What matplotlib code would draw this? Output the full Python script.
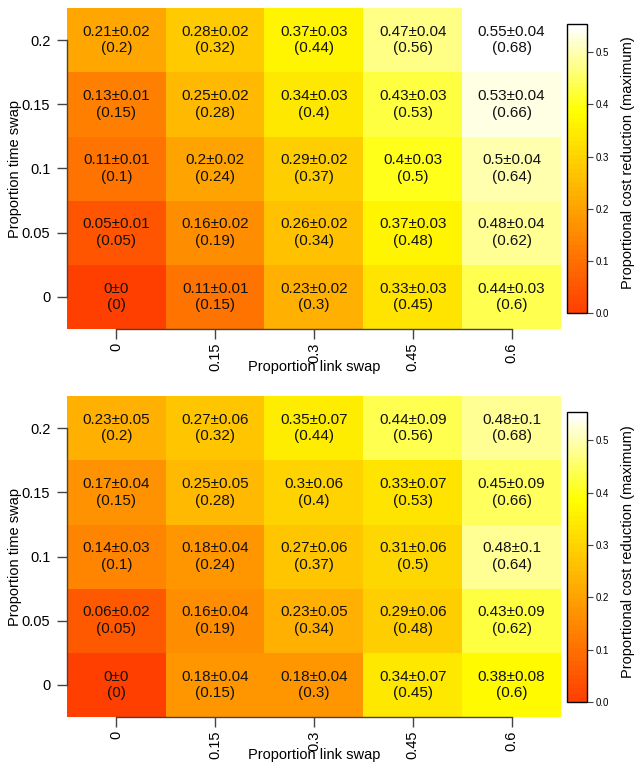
import numpy as np
import matplotlib
matplotlib.use("Agg")
import matplotlib.pyplot as plt
from matplotlib.colors import LinearSegmentedColormap, Normalize
from matplotlib.cm import ScalarMappable

plt.rcParams['font.family'] = ['Liberation Sans', 'DejaVu Sans']

link_swap = [0, 0.15, 0.3, 0.45, 0.6]
time_swap = [0, 0.05, 0.1, 0.15, 0.2]
link_labels = ["0", "0.15", "0.3", "0.45", "0.6"]
time_labels = ["0", "0.05", "0.1", "0.15", "0.2"]

# rows = time swap (0 -> 0.2), cols = link swap (0 -> 0.6)
top_mean = [[0, 0.11, 0.23, 0.33, 0.44],
            [0.05, 0.16, 0.26, 0.37, 0.48],
            [0.11, 0.2, 0.29, 0.4, 0.5],
            [0.13, 0.25, 0.34, 0.43, 0.53],
            [0.21, 0.28, 0.37, 0.47, 0.55]]
top_err = [[0, 0.01, 0.02, 0.03, 0.03],
           [0.01, 0.02, 0.02, 0.03, 0.04],
           [0.01, 0.02, 0.02, 0.03, 0.04],
           [0.01, 0.02, 0.03, 0.03, 0.04],
           [0.02, 0.02, 0.03, 0.04, 0.04]]
bot_mean = [[0, 0.18, 0.18, 0.34, 0.38],
            [0.06, 0.16, 0.23, 0.29, 0.43],
            [0.14, 0.18, 0.27, 0.31, 0.48],
            [0.17, 0.25, 0.3, 0.33, 0.45],
            [0.23, 0.27, 0.35, 0.44, 0.48]]
bot_err = [[0, 0.04, 0.04, 0.07, 0.08],
           [0.02, 0.04, 0.05, 0.06, 0.09],
           [0.03, 0.04, 0.06, 0.06, 0.1],
           [0.04, 0.05, 0.06, 0.07, 0.09],
           [0.05, 0.06, 0.07, 0.09, 0.1]]
bracket = [[0, 0.15, 0.3, 0.45, 0.6],
           [0.05, 0.19, 0.34, 0.48, 0.62],
           [0.1, 0.24, 0.37, 0.5, 0.64],
           [0.15, 0.28, 0.4, 0.53, 0.66],
           [0.2, 0.32, 0.44, 0.56, 0.68]]

legend_max = 0.554

# heat.colors-like map
heat = LinearSegmentedColormap.from_list(
    "heat", [(0.0, (1, 0.25, 0)), (0.70, (1, 1, 0)), (1.0, (1, 1, 1))], N=64)


def fmt(v):
    s = ("%.2f" % v).rstrip('0').rstrip('.')
    return s if s else "0"


def draw_panel(ax, cax, mean, err, vmax):
    mean = np.array(mean)
    dx = link_swap[1] - link_swap[0]
    dy = time_swap[1] - time_swap[0]
    ext = [link_swap[0] - dx / 2, link_swap[-1] + dx / 2,
           time_swap[0] - dy / 2, time_swap[-1] + dy / 2]
    ax.imshow(mean, cmap=heat, norm=Normalize(0, vmax), origin='lower',
              extent=ext, aspect='auto', interpolation='nearest')
    for i, ty in enumerate(time_swap):
        for j, lx in enumerate(link_swap):
            ax.text(lx, ty, "%s±%s\n(%s)" % (fmt(mean[i, j]), fmt(err[i][j]), fmt(bracket[i][j])),
                    ha='center', va='center', fontsize=11, linespacing=1.25, color='#111111')
    ax.set_xlim(ext[0], ext[1])
    ax.set_ylim(ext[2], ext[3])
    ax.set_xticks(link_swap)
    ax.set_xticklabels(link_labels, rotation=90)
    ax.set_yticks(time_swap)
    ax.set_yticklabels(time_labels)
    for s in ['top', 'right']:
        ax.spines[s].set_visible(False)
    ax.spines['bottom'].set_bounds(link_swap[0], link_swap[-1])
    ax.spines['left'].set_bounds(time_swap[0], time_swap[-1])
    for s in ['bottom', 'left']:
        ax.spines[s].set_color('#444444')
        ax.spines[s].set_linewidth(1.0)
        ax.spines[s].set_zorder(5)
    ax.tick_params(axis='x', length=7, width=1, color='#444444', labelsize=10.5, pad=3)
    ax.tick_params(axis='y', length=7, width=1, color='#444444', labelsize=10.5, pad=5)
    ax.set_xlabel("Proportion link swap", fontsize=10.5)
    ax.xaxis.set_label_coords(0.5, -0.098)
    ax.set_ylabel("Proportion time swap", fontsize=10.5)
    ax.yaxis.set_label_coords(-0.091, 0.5)

    cb = plt.colorbar(ScalarMappable(norm=Normalize(0, legend_max), cmap=heat), cax=cax)
    cb.set_ticks([0, 0.1, 0.2, 0.3, 0.4, 0.5])
    cb.set_ticklabels(["0.0", "0.1", "0.2", "0.3", "0.4", "0.5"])
    cb.outline.set_edgecolor('black')
    cb.outline.set_linewidth(1.0)
    cax.tick_params(length=4, width=0.8, color='#444444', labelsize=7, pad=2)


fig = plt.figure(figsize=(6.34, 7.67), dpi=100)
W, H = 634, 767

ax1 = fig.add_axes([67 / W, 1 - 329 / H, 494 / W, 321 / H])
cax1 = fig.add_axes([567 / W, 1 - 313 / H, 20 / W, 289 / H])
ax2 = fig.add_axes([67 / W, 1 - 717 / H, 494 / W, 321 / H])
cax2 = fig.add_axes([567 / W, 1 - 702 / H, 20 / W, 290 / H])

draw_panel(ax1, cax1, top_mean, top_err, legend_max)
draw_panel(ax2, cax2, bot_mean, bot_err, legend_max)

fig.text(628 / W, 1 - 163 / H, "Proportional cost reduction (maximum)", rotation=90,
         ha='center', va='center', fontsize=10.5)
fig.text(628 / W, 1 - 552 / H, "Proportional cost reduction (maximum)", rotation=90,
         ha='center', va='center', fontsize=10.5)

fig.savefig("out.png", dpi=100)
